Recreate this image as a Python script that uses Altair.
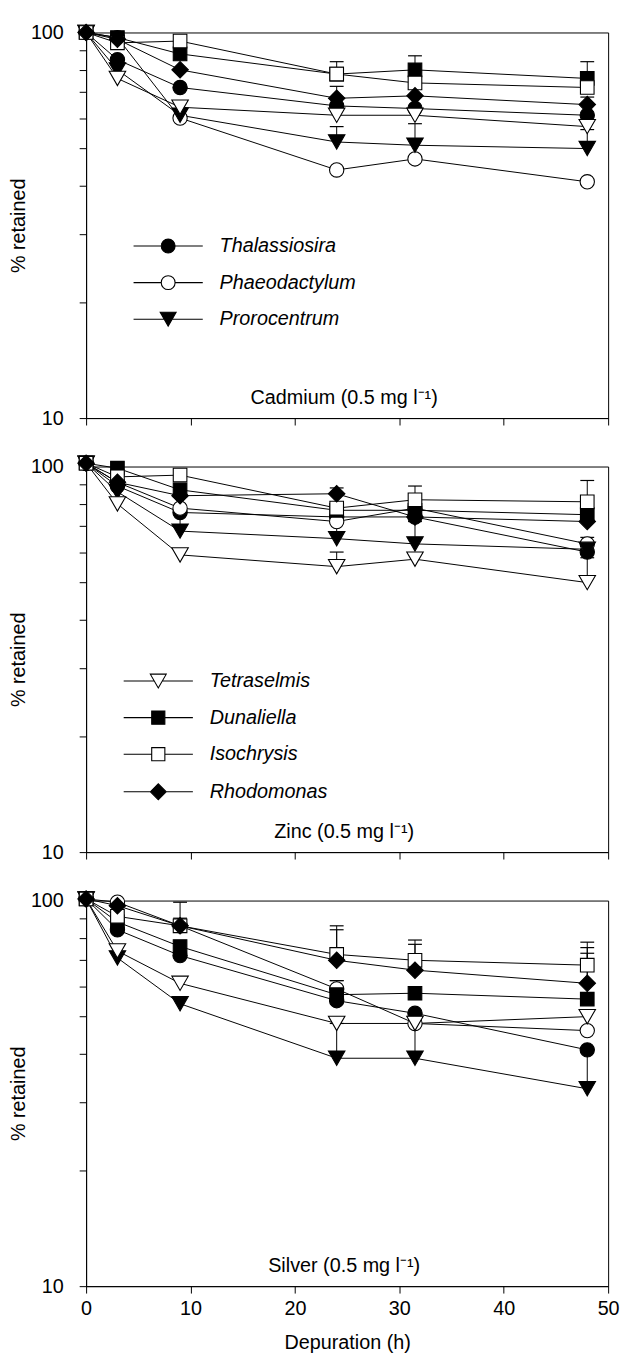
import altair as alt
import pandas as pd

FONT = "Liberation Sans"

times = [0, 3, 9, 24, 31.5, 48]
species = ["Thalassiosira", "Phaeodactylum", "Prorocentrum", "Tetraselmis",
           "Dunaliella", "Isochrysis", "Rhodomonas"]
metals = ["Cadmium", "Zinc", "Silver"]
panel_labels = ["Cadmium (0.5 mg l⁻¹)", "Zinc (0.5 mg l⁻¹)", "Silver (0.5 mg l⁻¹)"]
legend_groups = [species[:3], species[3:], []]

# Cadmium panel (% retained)
cd_thalassiosira = [100, 85, 72, 64.5, 63.5, 61]
cd_phaeodactylum = [100, 97, 60, 44, 47, 41]
cd_prorocentrum = [100, 80, 61, 52, 51, 50]
cd_tetraselmis = [100, 76, 64, 61, 61, 57]
cd_dunaliella = [100, 97, 88, 78, 80, 76]
cd_isochrysis = [100, 94, 95, 78, 74, 72]
cd_rhodomonas = [100, 96, 80, 67.5, 68.5, 65]

# Zinc panel
zn_thalassiosira = [102, 89, 76, 74, 74, 60]
zn_phaeodactylum = [102, 91, 78, 72, 78, 63]
zn_prorocentrum = [102, 86, 68, 65, 63, 61]
zn_tetraselmis = [102, 80, 59, 55, 57.5, 50]
zn_dunaliella = [102, 99, 87, 77, 77, 75]
zn_isochrysis = [102, 94, 95, 78, 82, 81]
zn_rhodomonas = [102, 91, 84, 85, 74, 72]

# Silver panel
ag_thalassiosira = [101, 84, 72, 55, 51, 41]
ag_phaeodactylum = [101, 99, 86, 59, 48, 46]
ag_prorocentrum = [101, 71, 54, 39, 39, 32.5]
ag_tetraselmis = [101, 74, 61, 48, 48, 50]
ag_dunaliella = [101, 88, 76, 57, 57.5, 55.5]
ag_isochrysis = [101, 91, 86, 72.5, 70, 68]
ag_rhodomonas = [101, 97, 86, 70, 66, 61]

# upper error bars: metal, species, time, top value
err_metal = ["Cadmium"] * 8 + ["Zinc"] * 9 + ["Silver"] * 14
err_species = ["Isochrysis", "Rhodomonas", "Prorocentrum", "Dunaliella", "Prorocentrum",
               "Dunaliella", "Rhodomonas", "Prorocentrum",
               "Isochrysis", "Isochrysis", "Prorocentrum", "Prorocentrum", "Tetraselmis",
               "Prorocentrum", "Phaeodactylum", "Tetraselmis", "Rhodomonas",
               "Rhodomonas", "Phaeodactylum", "Isochrysis", "Rhodomonas", "Phaeodactylum",
               "Prorocentrum", "Isochrysis", "Rhodomonas", "Prorocentrum", "Isochrysis",
               "Rhodomonas", "Dunaliella", "Prorocentrum", "Dunaliella"]
err_time = [24, 24, 24, 31.5, 31.5, 48, 48, 48,
            31.5, 48, 9, 24, 24, 31.5, 48, 48, 24,
            9, 9, 24, 24, 24, 24, 31.5, 31.5, 31.5, 48, 48, 48, 48, 24]
err_top = [84, 72.5, 57, 87, 58, 84, 68, 56,
           89, 92, 76, 72, 60, 72, 65.5, 58, 88,
           99, 90, 86, 84, 62, 48, 79, 77, 48, 78, 75.5, 73, 41, 62]

values = {
    "Cadmium": [cd_thalassiosira, cd_phaeodactylum, cd_prorocentrum, cd_tetraselmis,
                cd_dunaliella, cd_isochrysis, cd_rhodomonas],
    "Zinc": [zn_thalassiosira, zn_phaeodactylum, zn_prorocentrum, zn_tetraselmis,
             zn_dunaliella, zn_isochrysis, zn_rhodomonas],
    "Silver": [ag_thalassiosira, ag_phaeodactylum, ag_prorocentrum, ag_tetraselmis,
               ag_dunaliella, ag_isochrysis, ag_rhodomonas],
}

rows = []
for m in metals:
    for s, series in zip(species, values[m]):
        for t, v in zip(times, series):
            rows.append({"metal": m, "species": s, "time": t, "pct": v})
df = pd.DataFrame(rows)

erows = []
for m, s, t, top in zip(err_metal, err_species, err_time, err_top):
    lo = values[m][species.index(s)][times.index(t)]
    erows.append({"metal": m, "species": s, "time": t, "lo": lo, "hi": top})
edf = pd.DataFrame(erows)

# marker styling
CIRCLE = "M1,0A1,1,0,1,1,-1,0A1,1,0,1,1,1,0Z"
SQUARE = "M-0.95,-0.95L0.95,-0.95L0.95,0.95L-0.95,0.95Z"
TRI = "M-1.15,-1L1.15,-1L0,1Z"
DIAM = "M-1.15,0L0,-1.15L1.15,0L0,1.15Z"
marker_path = {"Thalassiosira": CIRCLE, "Phaeodactylum": CIRCLE,
               "Prorocentrum": TRI, "Tetraselmis": TRI,
               "Dunaliella": SQUARE, "Isochrysis": SQUARE, "Rhodomonas": DIAM}
marker_fill = {"Thalassiosira": "black", "Phaeodactylum": "white",
               "Prorocentrum": "black", "Tetraselmis": "white",
               "Dunaliella": "black", "Isochrysis": "white", "Rhodomonas": "black"}
line_gap = {CIRCLE: 1, SQUARE: 0.95, TRI: 0.575, DIAM: 1.15}
legend_path = {s: "M-5,0L-{g},0M{g},0L5,0".format(g=line_gap[p]) + p
               for s, p in marker_path.items()}
legend_xy = [(73, 206), (63, 207), None]

W, H = 528, 390


def panel(i):
    m = metals[i]
    d = df[df.metal == m]
    e = edf[edf.metal == m]
    bottom = (i == 2)
    x = alt.X("time:Q", scale=alt.Scale(domain=[0, 50], nice=False),
              title="Depuration (h)" if bottom else None,
              axis=alt.Axis(values=[0, 10, 20, 30, 40, 50], labels=bottom,
                            labelPadding=6, titlePadding=14))
    y = alt.Y("pct:Q", scale=alt.Scale(type="log", domain=[10, 100], nice=False),
              title="% retained",
              axis=alt.Axis(values=[10, 20, 30, 40, 50, 60, 70, 80, 90, 100],
                            labelExpr="(datum.value == 10 || datum.value == 100) ? '' + datum.value : ''",
                            labelOverlap=False, labelPadding=16, titlePadding=2))
    lines = alt.Chart(d).mark_line(color="black", strokeWidth=1).encode(
        x=x, y=y, detail="species:N", order="time:Q")
    rules = alt.Chart(e).mark_rule(color="black", strokeWidth=1).encode(
        x="time:Q", y="lo:Q", y2="hi:Q")
    caps = alt.Chart(e).mark_point(shape="M-1,0L1,0", size=196, stroke="black",
                                   strokeWidth=1.2, filled=False, opacity=1).encode(
        x="time:Q", y="hi:Q")
    pts = alt.Chart(d).mark_point(filled=True, stroke="black", strokeWidth=1.1,
                                  opacity=1, size=210).encode(
        x="time:Q", y="pct:Q",
        color=alt.Color("species:N", scale=alt.Scale(domain=species,
                        range=[marker_fill[s] for s in species]), legend=None),
        shape=alt.Shape("species:N", scale=alt.Scale(domain=species,
                        range=[marker_path[s] for s in species]), legend=None),
    )
    label = alt.Chart(pd.DataFrame({"label": [panel_labels[i]]})).mark_text(
        font=FONT, fontSize=20, align="center", baseline="middle", color="black"
    ).encode(x=alt.value(261), y=alt.value(370), text="label:N")
    layers = [lines, rules, caps, pts, label]
    grp = legend_groups[i]
    if grp:
        lx, ly = legend_xy[i]
        leg = alt.Legend(title=None, orient="none", legendX=lx, legendY=ly, padding=0,
                         symbolSize=196, symbolStrokeWidth=1.1, symbolOpacity=1,
                         labelFont=FONT, labelFontSize=20, labelFontStyle="italic",
                         labelColor="black", labelOffset=42, rowPadding=17)
        lg = alt.Chart(pd.DataFrame({"lg": grp})).mark_point(
            filled=True, opacity=0, strokeWidth=1.1).encode(
            color=alt.Color("lg:N", scale=alt.Scale(domain=grp,
                            range=[marker_fill[s] for s in grp]), legend=leg),
            shape=alt.Shape("lg:N", scale=alt.Scale(domain=grp,
                            range=[legend_path[s] for s in grp]), legend=leg),
            stroke=alt.Stroke("lg:N", scale=alt.Scale(domain=grp,
                              range=["black"] * len(grp)), legend=leg),
        )
        layers.append(lg)
    return alt.layer(*layers).resolve_scale(
        color="independent", shape="independent", stroke="independent"
    ).properties(width=W, height=H)


chart = alt.vconcat(panel(0), panel(1), panel(2), spacing=49, bounds="flush",
                    padding={"left": 0, "top": 5, "right": 0, "bottom": 5}
                    ).resolve_scale(color="independent", shape="independent",
                                    stroke="independent"
                    ).resolve_legend(color="independent", shape="independent",
                                     stroke="independent"
                    ).configure_view(stroke="black", strokeWidth=1
                    ).configure_axis(domainColor="black", tickColor="black",
                                     labelColor="black", titleColor="black",
                                     labelFont=FONT, titleFont=FONT,
                                     labelFontSize=20, titleFontSize=20,
                                     titleFontWeight="normal", grid=False,
                                     tickSize=7, domainWidth=1, tickWidth=1,
                                     labelFlush=False)

chart.save("out.html", embed_options={"renderer": "svg", "actions": False})
